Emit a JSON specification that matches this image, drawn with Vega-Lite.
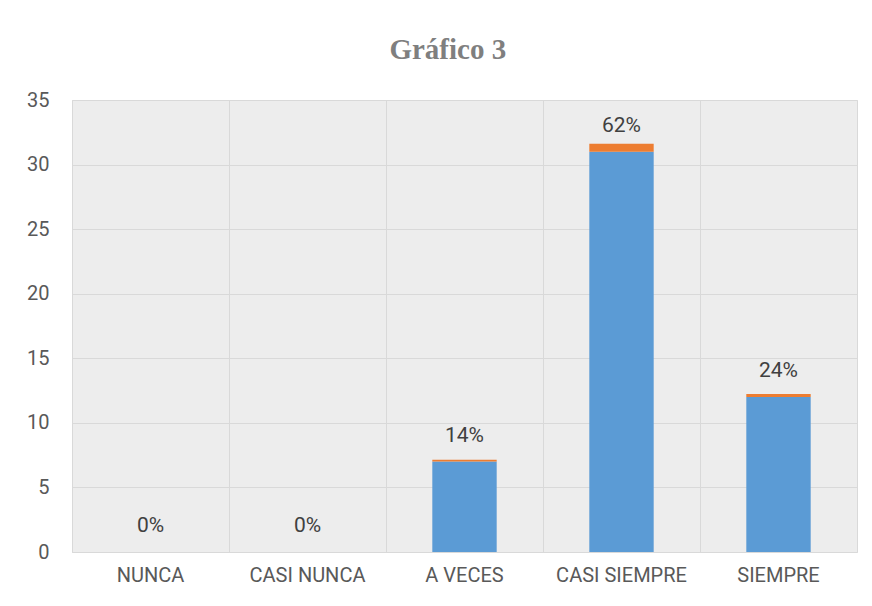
{
  "$schema": "https://vega.github.io/schema/vega-lite/v6.json",
  "autosize": "none",
  "width": 785,
  "height": 452,
  "padding": {"left": 72, "top": 100, "right": 15, "bottom": 54},
  "background": "white",
  "title": {
    "text": "Gráfico 3",
    "font": "Liberation Serif",
    "fontSize": 29,
    "fontWeight": "bold",
    "color": "#7f7f7f",
    "anchor": "middle",
    "frame": "bounds",
    "dx": 6,
    "offset": 25
  },
  "config": {
    "view": {"fill": "#ededed", "stroke": "#d9d9d9", "strokeWidth": 1},
    "axis": {
      "labelFont": "Roboto",
      "labelFontSize": 20,
      "labelColor": "#595959",
      "gridColor": "#d9d9d9",
      "gridWidth": 1,
      "domain": false,
      "ticks": false,
      "title": null
    }
  },
  "data": {
    "values": [
      {"categoria": "NUNCA", "cantidad": 0, "porcentaje": 0},
      {"categoria": "CASI NUNCA", "cantidad": 0, "porcentaje": 0},
      {"categoria": "A VECES", "cantidad": 7, "porcentaje": 0.14},
      {"categoria": "CASI SIEMPRE", "cantidad": 31, "porcentaje": 0.62},
      {"categoria": "SIEMPRE", "cantidad": 12, "porcentaje": 0.24}
    ]
  },
  "encoding": {
    "x": {
      "field": "categoria",
      "type": "nominal",
      "sort": null,
      "scale": {"paddingInner": 0, "paddingOuter": 0},
      "axis": {"labelAngle": 0, "labelPadding": 13, "grid": true, "bandPosition": 0}
    }
  },
  "layer": [
    {
      "transform": [{"fold": ["cantidad", "porcentaje"], "as": ["serie", "valor"]}],
      "mark": {"type": "bar", "width": {"band": 0.41}},
      "encoding": {
        "y": {
          "field": "valor",
          "type": "quantitative",
          "stack": "zero",
          "scale": {"domain": [0, 35]},
          "axis": {"values": [0, 5, 10, 15, 20, 25, 30, 35], "labelPadding": 23}
        },
        "color": {
          "field": "serie",
          "type": "nominal",
          "scale": {"domain": ["cantidad", "porcentaje"], "range": ["#5b9bd5", "#ed7d31"]},
          "legend": null
        },
        "order": {"field": "serie", "sort": "ascending"}
      }
    },
    {
      "mark": {"type": "text", "font": "Roboto", "fontSize": 21, "color": "#404040", "dy": -26, "baseline": "middle"},
      "encoding": {
        "y": {"field": "cantidad", "type": "quantitative"},
        "text": {"field": "porcentaje", "type": "quantitative", "format": ".0%"}
      }
    }
  ]
}
